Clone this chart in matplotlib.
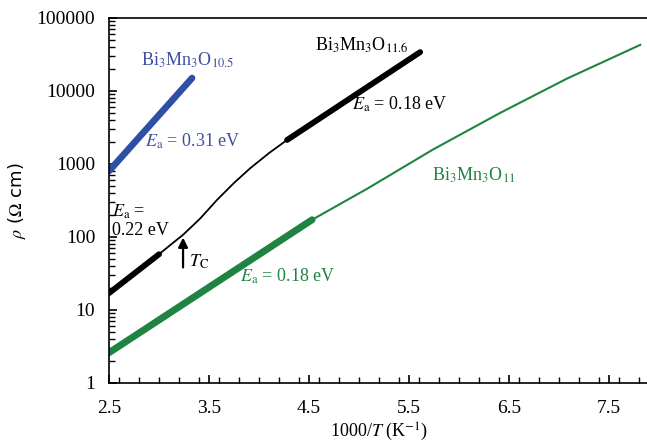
import matplotlib.pyplot as plt
from matplotlib.ticker import LogLocator, NullFormatter, MultipleLocator, FuncFormatter

plt.rcParams['font.family'] = ['Liberation Serif', 'DejaVu Serif']
plt.rcParams['mathtext.fontset'] = 'stix'

# Bi3Mn3O10.5 (linear fit region)
x_105 = [2.5, 3.33]
rho_105 = [800, 15000]

# Bi3Mn3O11.6: low-T fit, crossover near Tc, high-T fit
x_116_a = [2.5, 3.0]
rho_116_a = [17, 58]
x_116_mid = [3.0, 3.12, 3.24, 3.41, 3.58, 3.75, 3.91, 4.1, 4.28]
rho_116_mid = [58, 79, 107, 178, 322, 550, 870, 1410, 2130]
x_116_b = [4.28, 5.61]
rho_116_b = [2130, 34000]

# Bi3Mn3O11: fit region and the rest of the curve
x_11_a = [2.5, 4.53]
rho_11_a = [2.6, 172]
x_11_b = [4.53, 5.08, 5.74, 6.41, 7.08, 7.81]
rho_11_b = [172, 457, 1580, 5000, 14800, 42700]

blue = '#2f4fa6'
green = '#1f8442'

fig = plt.figure(figsize=(6.47, 4.47), dpi=100)
ax = fig.add_axes([0.1685, 0.1432, 0.835, 0.8168])

ax.plot(x_105, rho_105, color=blue, lw=4.8, solid_capstyle='round')
ax.plot(x_116_a, rho_116_a, color='black', lw=4.2, solid_capstyle='round')
ax.plot(x_116_mid, rho_116_mid, color='black', lw=1.3)
ax.plot(x_116_b, rho_116_b, color='black', lw=4.2, solid_capstyle='round')
ax.plot(x_11_a, rho_11_a, color=green, lw=5, solid_capstyle='round')
ax.plot(x_11_b, rho_11_b, color=green, lw=1.5)

ax.set_yscale('log')
ax.set_xlim(2.5, 7.9)
ax.set_ylim(1, 100000)
ax.set_xticks([2.5, 3.5, 4.5, 5.5, 6.5, 7.5])
ax.xaxis.set_minor_locator(MultipleLocator(0.2))
ax.yaxis.set_major_locator(LogLocator(base=10, numticks=10))
ax.yaxis.set_minor_locator(LogLocator(base=10, subs=range(2, 10), numticks=20))
ax.yaxis.set_minor_formatter(NullFormatter())
ax.yaxis.set_major_formatter(FuncFormatter(lambda v, p: f'{v:.0f}'))
ax.tick_params(which='major', direction='in', length=6, width=1.2, labelsize=14)
ax.tick_params(axis='x', which='major', pad=12)
ax.tick_params(axis='y', which='major', pad=10)
ax.tick_params(which='minor', direction='in', length=4, width=1)
ax.spines['right'].set_visible(False)
for s in ['left', 'bottom', 'top']:
    ax.spines[s].set_linewidth(1.2)

ax.set_xlabel('1000/$T$ (K$^{-1}$)', fontsize=13, labelpad=3)
ax.set_ylabel(r'$\rho$ ($\Omega$ cm)', fontsize=13, family=['DejaVu Sans'], labelpad=6)

ax.text(2.82, 26500, 'Bi$_3$Mn$_3$O$_{10.5}$', color='#3f4fa0', fontsize=13, va='center')
ax.text(2.86, 2065, '$E_\\mathrm{a}$ = 0.31 eV', color='#3f4fa0', fontsize=13, va='center')
ax.text(4.56, 42700, 'Bi$_3$Mn$_3$O$_{11.6}$', color='black', fontsize=13, va='center')
ax.text(4.93, 6620, '$E_\\mathrm{a}$ = 0.18 eV', color='black', fontsize=13, va='center')
ax.text(5.73, 708, 'Bi$_3$Mn$_3$O$_{11}$', color=green, fontsize=13, va='center')
ax.text(3.81, 29, '$E_\\mathrm{a}$ = 0.18 eV', color=green, fontsize=13, va='center')
ax.text(2.53, 165, '$E_\\mathrm{a}$ =\n0.22 eV', color='black', fontsize=13, va='center',
        linespacing=1.1)

ax.annotate('', xy=(3.24, 107), xytext=(3.24, 35),
            arrowprops=dict(arrowstyle='-|>', color='black', lw=1.6, mutation_scale=14))
ax.text(3.30, 45, '$T_\\mathrm{C}$', fontsize=13, va='center')

fig.savefig('out.png', dpi=100)
